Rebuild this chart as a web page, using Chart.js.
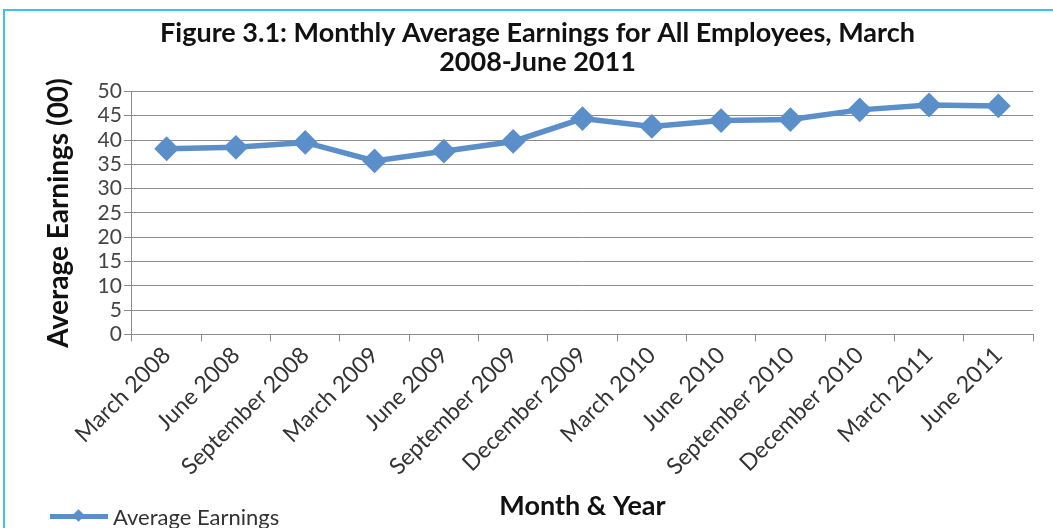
<!DOCTYPE html>
<html>
<head>
<meta charset="utf-8">
<script src="https://cdn.jsdelivr.net/npm/chart.js@4"></script>
<style>
  html, body { margin: 0; padding: 0; background: #fff; }
  #wrap { position: relative; width: 1053px; height: 528px; overflow: hidden; }
  #frame { position: absolute; left: 3px; top: 9px; width: 1100px; height: 600px; border: 2px solid #3fc1f0; box-sizing: border-box; }
  canvas { position: absolute; left: 0; top: 0; }
  #legend { position: absolute; left: 50px; top: 503px; display: flex; align-items: center; font-family: "Lato", sans-serif; font-size: 22px; color: #333; }
  #legend .swatch { position: relative; width: 58px; height: 5px; margin-right: 5px; }
  #legend .swatch .ln { position: absolute; left: 0; top: 0; width: 58px; height: 5px; }
  #legend .swatch .dm { position: absolute; left: 24px; top: -3px; width: 9px; height: 9px; transform: rotate(45deg); }
</style>
</head>
<body>
<div id="wrap">
  <div id="frame"></div>
  <canvas id="chart" width="1053" height="528"></canvas>
  <div id="legend"></div>
</div>
<script>
const months = [
  "March 2008", "June 2008", "September 2008", "March 2009", "June 2009",
  "September 2009", "December 2009", "March 2010", "June 2010",
  "September 2010", "December 2010", "March 2011", "June 2011"
];
const avgEarnings = [38.2, 38.5, 39.5, 35.7, 37.7, 39.7, 44.4, 42.8, 44.0, 44.2, 46.2, 47.2, 47.0];
const seriesName = "Average Earnings";
const titleLines = ["Figure 3.1: Monthly Average Earnings for All Employees, March", "2008-June 2011"];

const lineColor = "#5b8fc9";
const gridColor = "#8c8c8c";

const chart = new Chart(document.getElementById("chart"), {
  type: "line",
  data: {
    labels: months,
    datasets: [{
      label: seriesName,
      data: avgEarnings,
      borderColor: lineColor,
      backgroundColor: lineColor,
      borderWidth: 5.5,
      pointStyle: "rectRot",
      pointRadius: 8.5,
      pointHoverRadius: 8.5,
      tension: 0,
    }],
  },
  options: {
    responsive: false,
    animation: false,
    layout: { padding: { left: 42, right: 20, top: 18, bottom: 6 } },
    plugins: {
      legend: { display: false },
      tooltip: { enabled: false },
      title: {
        display: true,
        text: titleLines,
        color: "#111",
        font: { family: "Lato", size: 27, weight: "bold", lineHeight: 1.1 },
        padding: { top: 0, bottom: 14 },
      },
    },
    scales: {
      x: {
        offset: true,
        grid: { offset: true, drawOnChartArea: false, drawTicks: true, tickLength: 7, color: gridColor },
        border: { color: gridColor },
        ticks: {
          autoSkip: false,
          maxRotation: 45,
          minRotation: 45,
          color: "#333",
          padding: 0,
          font: { family: "Lato", size: 23 },
        },
        title: {
          display: true,
          text: "Month & Year",
          color: "#111",
          font: { family: "Lato", size: 27, weight: "bold" },
          padding: { top: 9, bottom: 0 },
        },
      },
      y: {
        min: 0,
        max: 50,
        grid: { color: gridColor, tickLength: 8 },
        border: { color: gridColor },
        ticks: {
          stepSize: 5,
          autoSkip: false,
          color: "#444",
          padding: 2,
          font: { family: "Lato", size: 21 },
        },
        title: {
          display: true,
          text: "Average Earnings (00)",
          color: "#111",
          font: { family: "Lato", size: 28, weight: "bold" },
          padding: { top: 0, bottom: 20 },
        },
      },
    },
  },
});

// html legend built from the dataset
const legendEl = document.getElementById("legend");
chart.data.datasets.forEach((ds) => {
  const item = document.createElement("div");
  item.style.display = "flex";
  item.style.alignItems = "center";
  item.innerHTML = `<span class="swatch"><span class="ln" style="background:${ds.borderColor}"></span><span class="dm" style="background:${ds.borderColor}"></span></span><span>${ds.label}</span>`;
  legendEl.appendChild(item);
});
</script>
</body>
</html>
